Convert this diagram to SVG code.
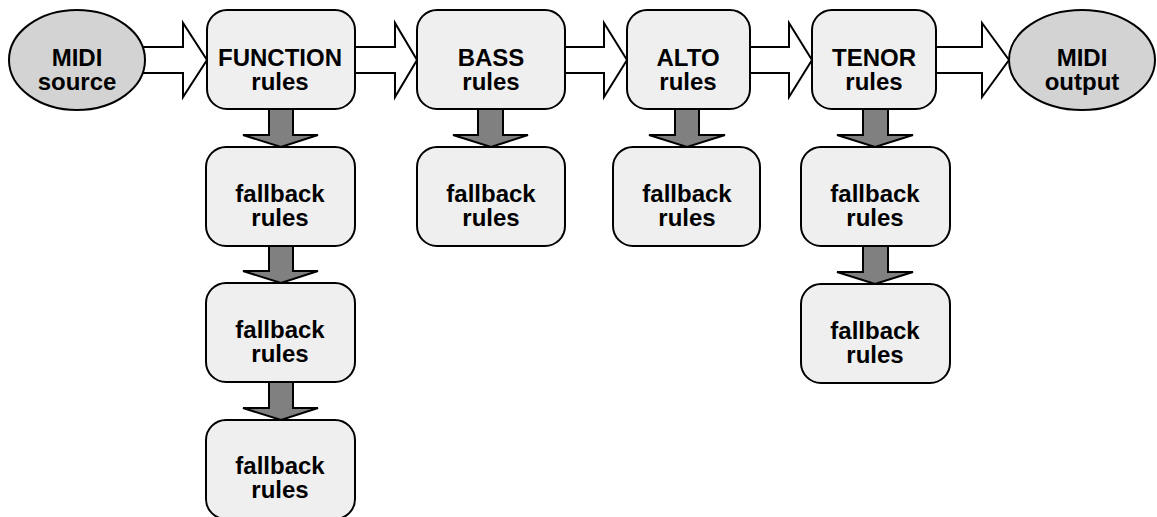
<svg xmlns="http://www.w3.org/2000/svg" width="1157" height="517" viewBox="0 0 1157 517">
  <style>
    .box { fill: #efefef; stroke: #000; stroke-width: 2; }
    .term { fill: #d3d3d3; stroke: #000; stroke-width: 2; }
    .flow { fill: #fff; stroke: #000; stroke-width: 2; stroke-linejoin: miter; }
    .fall { fill: #808080; stroke: #000; stroke-width: 2; stroke-linejoin: miter; }
    text { font-family: "Liberation Sans", Arial, sans-serif; font-weight: bold; font-size: 24px; fill: #000; text-anchor: middle; }
  </style>

  <!-- connectors: hollow block arrows along the chain, grey block arrows down to fallbacks -->
  <g id="connectors">
    <polygon class="flow" points="130,47 183,47 183,23 207,60 183,97 183,73 130,73"/>
    <polygon class="flow" points="355,47 395,47 395,23 417,60 395,97 395,73 355,73"/>
    <polygon class="flow" points="565,47 604,47 604,23 627,60 604,97 604,73 565,73"/>
    <polygon class="flow" points="750,47 789,47 789,23 812,60 789,97 789,73 750,73"/>
    <polygon class="flow" points="936,47 982,47 982,23 1009,60 982,97 982,73 936,73"/>

    <polygon class="fall" points="269,109 293,109 293,135 318,135 281,147 243,135 269,135"/>
    <polygon class="fall" points="269,246 293,246 293,271 318,271 281,283 243,271 269,271"/>
    <polygon class="fall" points="269,382 293,382 293,408 318,408 281,420 243,408 269,408"/>
    <polygon class="fall" points="478,109 503,109 503,135 528,135 491,147 453,135 478,135"/>
    <polygon class="fall" points="675,109 699,109 699,135 725,135 687,147 649,135 675,135"/>
    <polygon class="fall" points="863,109 888,109 888,135 913,135 875,147 837,135 863,135"/>
    <polygon class="fall" points="863,246 888,246 888,272 913,272 875,284 837,272 863,272"/>
  </g>

  <g id="midi-source">
    <ellipse class="term" cx="77" cy="60" rx="68" ry="50"/>
    <text x="77" y="65.5">MIDI<tspan x="77" dy="24">source</tspan></text>
  </g>

  <g id="function-rules">
    <rect class="box" x="207" y="10" width="148" height="99" rx="20"/>
    <text x="280" y="65.5">FUNCTION<tspan x="280" dy="24">rules</tspan></text>
  </g>
  <g id="function-fallback-1">
    <rect class="box" x="206" y="147" width="149" height="99" rx="20"/>
    <text x="280" y="202">fallback<tspan x="280" dy="24">rules</tspan></text>
  </g>
  <g id="function-fallback-2">
    <rect class="box" x="206" y="283" width="149" height="99" rx="20"/>
    <text x="280" y="338">fallback<tspan x="280" dy="24">rules</tspan></text>
  </g>
  <g id="function-fallback-3">
    <rect class="box" x="206" y="420" width="149" height="99" rx="20"/>
    <text x="280" y="474">fallback<tspan x="280" dy="24">rules</tspan></text>
  </g>

  <g id="bass-rules">
    <rect class="box" x="417" y="10" width="148" height="99" rx="20"/>
    <text x="491" y="65.5">BASS<tspan x="491" dy="24">rules</tspan></text>
  </g>
  <g id="bass-fallback">
    <rect class="box" x="417" y="147" width="148" height="99" rx="20"/>
    <text x="491" y="202">fallback<tspan x="491" dy="24">rules</tspan></text>
  </g>

  <g id="alto-rules">
    <rect class="box" x="627" y="10" width="123" height="99" rx="20"/>
    <text x="688" y="65.5">ALTO<tspan x="688" dy="24">rules</tspan></text>
  </g>
  <g id="alto-fallback">
    <rect class="box" x="613" y="147" width="147" height="99" rx="20"/>
    <text x="687" y="202">fallback<tspan x="687" dy="24">rules</tspan></text>
  </g>

  <g id="tenor-rules">
    <rect class="box" x="812" y="10" width="124" height="99" rx="20"/>
    <text x="874" y="65.5">TENOR<tspan x="874" dy="24">rules</tspan></text>
  </g>
  <g id="tenor-fallback-1">
    <rect class="box" x="801" y="147" width="149" height="99" rx="20"/>
    <text x="875" y="202">fallback<tspan x="875" dy="24">rules</tspan></text>
  </g>
  <g id="tenor-fallback-2">
    <rect class="box" x="801" y="284" width="149" height="99" rx="20"/>
    <text x="875" y="339">fallback<tspan x="875" dy="24">rules</tspan></text>
  </g>

  <g id="midi-output">
    <ellipse class="term" cx="1082" cy="60" rx="73" ry="50"/>
    <text x="1082" y="65.5">MIDI<tspan x="1082" dy="24">output</tspan></text>
  </g>
</svg>
